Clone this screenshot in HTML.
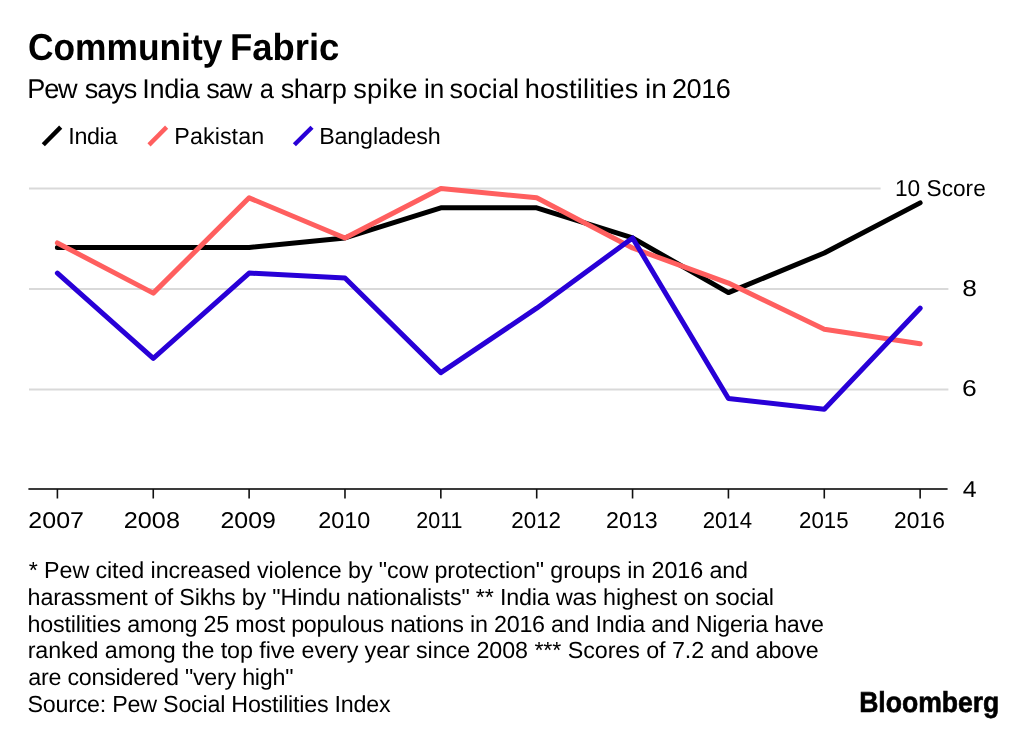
<!DOCTYPE html>
<html><head><meta charset="utf-8"><title>Community Fabric</title>
<style>
html,body{margin:0;padding:0;background:#fff;}
body{width:1024px;height:731px;overflow:hidden;position:relative;}
svg{position:absolute;left:0;top:0;display:block;will-change:transform;}
text{font-family:"Liberation Sans", Arial, Helvetica, sans-serif;fill:#000;white-space:pre;text-rendering:geometricPrecision;}
</style></head><body>
<svg width="1024" height="731" viewBox="0 0 1024 731">
<rect x="0" y="0" width="1024" height="731" fill="#ffffff"/>
<g class="shape">
<line x1="43.3" y1="144.8" x2="60.7" y2="127.1" stroke="#000000" stroke-width="4.4"/>
<line x1="149.0" y1="144.9" x2="166.6" y2="127.1" stroke="#ff5f5f" stroke-width="4.4"/>
<line x1="294.4" y1="144.8" x2="312.0" y2="127.2" stroke="#2800d7" stroke-width="4.4"/>
<line x1="29" y1="188.6" x2="880.6" y2="188.6" stroke="#d9d9d9" stroke-width="2"/>
<line x1="29" y1="288.9" x2="948.4" y2="288.9" stroke="#d9d9d9" stroke-width="2"/>
<line x1="29" y1="389.4" x2="948.4" y2="389.4" stroke="#d9d9d9" stroke-width="2"/>
<line x1="28.4" y1="489.1" x2="947.6" y2="489.1" stroke="#3a3a3a" stroke-width="2"/>
<line x1="57.40" y1="489" x2="57.40" y2="498.5" stroke="#111" stroke-width="1.6"/>
<line x1="153.26" y1="489" x2="153.26" y2="498.5" stroke="#111" stroke-width="1.6"/>
<line x1="249.12" y1="489" x2="249.12" y2="498.5" stroke="#111" stroke-width="1.6"/>
<line x1="344.98" y1="489" x2="344.98" y2="498.5" stroke="#111" stroke-width="1.6"/>
<line x1="440.84" y1="489" x2="440.84" y2="498.5" stroke="#111" stroke-width="1.6"/>
<line x1="536.70" y1="489" x2="536.70" y2="498.5" stroke="#111" stroke-width="1.6"/>
<line x1="632.56" y1="489" x2="632.56" y2="498.5" stroke="#111" stroke-width="1.6"/>
<line x1="728.42" y1="489" x2="728.42" y2="498.5" stroke="#111" stroke-width="1.6"/>
<line x1="824.28" y1="489" x2="824.28" y2="498.5" stroke="#111" stroke-width="1.6"/>
<line x1="920.14" y1="489" x2="920.14" y2="498.5" stroke="#111" stroke-width="1.6"/>
<polyline points="57.40,247.48 153.26,247.48 249.12,247.48 344.98,237.95 440.84,207.86 536.70,207.86 632.56,237.95 728.42,292.61 824.28,253.00 920.14,202.85" fill="none" stroke="#000000" stroke-width="5" stroke-linejoin="round" stroke-linecap="round"/>
<polyline points="57.40,242.96 153.26,293.12 249.12,197.83 344.98,237.95 440.84,188.50 536.70,197.83 632.56,247.98 728.42,283.09 824.28,329.22 920.14,343.77" fill="none" stroke="#ff5f5f" stroke-width="5" stroke-linejoin="round" stroke-linecap="round"/>
<polyline points="57.40,273.05 153.26,358.31 249.12,273.05 344.98,278.07 440.84,372.65 536.70,308.16 632.56,237.95 728.42,398.43 824.28,409.21 920.14,308.16" fill="none" stroke="#2800d7" stroke-width="5" stroke-linejoin="round" stroke-linecap="round"/>
</g>
<text id="title0" x="27.90" y="59.8" font-size="37.6" font-weight="bold" textLength="194.50" lengthAdjust="spacingAndGlyphs">Community</text>
<text id="title1" x="229.88" y="59.8" font-size="37.6" font-weight="bold" textLength="109.44" lengthAdjust="spacingAndGlyphs">Fabric</text>
<text id="sub0" x="27.34" y="97.8" font-size="27.1" textLength="50.15" lengthAdjust="spacing">Pew</text>
<text id="sub1" x="84.74" y="97.8" font-size="27.1" textLength="52.52" lengthAdjust="spacing">says</text>
<text id="sub2" x="142.37" y="97.8" font-size="27.1" textLength="57.53" lengthAdjust="spacing">India</text>
<text id="sub3" x="206.15" y="97.8" font-size="27.1" textLength="46.15" lengthAdjust="spacing">saw</text>
<text id="sub4" x="259.63" y="97.8" font-size="27.1" textLength="14.19" lengthAdjust="spacingAndGlyphs">a</text>
<text id="sub5" x="280.63" y="97.8" font-size="27.1" textLength="66.19" lengthAdjust="spacing">sharp</text>
<text id="sub6" x="353.15" y="97.8" font-size="27.1" textLength="64.40" lengthAdjust="spacing">spike</text>
<text id="sub7" x="424.07" y="97.8" font-size="27.1" textLength="20.31" lengthAdjust="spacingAndGlyphs">in</text>
<text id="sub8" x="449.44" y="97.8" font-size="27.1" textLength="69.62" lengthAdjust="spacing">social</text>
<text id="sub9" x="524.64" y="97.8" font-size="27.1" textLength="113.73" lengthAdjust="spacing">hostilities</text>
<text id="sub10" x="645.08" y="97.8" font-size="27.1" textLength="21.84" lengthAdjust="spacingAndGlyphs">in</text>
<text id="sub11" x="671.90" y="97.8" font-size="27.1" textLength="58.96" lengthAdjust="spacing">2016</text>
<text id="legI" x="68.28" y="143.8" font-size="23.3" textLength="49.10" lengthAdjust="spacing">India</text>
<text id="legP" x="174.27" y="143.8" font-size="23.3" textLength="89.89" lengthAdjust="spacing">Pakistan</text>
<text id="legB" x="319.21" y="143.8" font-size="23.3" textLength="121.43" lengthAdjust="spacing">Bangladesh</text>
<text id="y10" x="895.00" y="195.8" font-size="23" textLength="90.74" lengthAdjust="spacingAndGlyphs">10 Score</text>
<text id="y8" x="962.17" y="295.6" font-size="23" textLength="14.66" lengthAdjust="spacingAndGlyphs">8</text>
<text id="y6" x="961.92" y="396.4" font-size="23" textLength="14.75" lengthAdjust="spacingAndGlyphs">6</text>
<text id="y4" x="962.79" y="496.7" font-size="23" textLength="13.83" lengthAdjust="spacingAndGlyphs">4</text>
<text id="x0" x="28.36" y="527.9" font-size="22.8" textLength="55.60" lengthAdjust="spacingAndGlyphs">2007</text>
<text id="x1" x="123.75" y="527.9" font-size="22.8" textLength="56.19" lengthAdjust="spacingAndGlyphs">2008</text>
<text id="x2" x="220.42" y="527.9" font-size="22.8" textLength="55.45" lengthAdjust="spacingAndGlyphs">2009</text>
<text id="x3" x="318.17" y="527.9" font-size="22.8" textLength="52.00" lengthAdjust="spacingAndGlyphs">2010</text>
<text id="x4" x="416.35" y="527.9" font-size="22.8" textLength="46.17" lengthAdjust="spacingAndGlyphs">2011</text>
<text id="x5" x="511.29" y="527.9" font-size="22.8" textLength="49.78" lengthAdjust="spacingAndGlyphs">2012</text>
<text id="x6" x="606.11" y="527.9" font-size="22.8" textLength="51.55" lengthAdjust="spacingAndGlyphs">2013</text>
<text id="x7" x="702.71" y="527.9" font-size="22.8" textLength="49.32" lengthAdjust="spacingAndGlyphs">2014</text>
<text id="x8" x="799.05" y="527.9" font-size="22.8" textLength="49.47" lengthAdjust="spacingAndGlyphs">2015</text>
<text id="x9" x="894.08" y="527.9" font-size="22.8" textLength="50.76" lengthAdjust="spacingAndGlyphs">2016</text>
<text id="n0" x="28.78" y="578.2" font-size="23.3" textLength="719.28" lengthAdjust="spacing">* Pew cited increased violence by "cow protection" groups in 2016 and</text>
<text id="n1" x="27.60" y="604.9" font-size="23.3" textLength="746.41" lengthAdjust="spacing">harassment of Sikhs by "Hindu nationalists" ** India was highest on social</text>
<text id="n2" x="27.60" y="631.6" font-size="23.3" textLength="796.39" lengthAdjust="spacing">hostilities among 25 most populous nations in 2016 and India and Nigeria have</text>
<text id="n3" x="27.66" y="658.2" font-size="23.3" textLength="791.05" lengthAdjust="spacing">ranked among the top five every year since 2008 *** Scores of 7.2 and above</text>
<text id="n4" x="28.30" y="684.9" font-size="23.3" textLength="265.13" lengthAdjust="spacing">are considered "very high"</text>
<text id="n5" x="27.49" y="711.6" font-size="23.3" textLength="363.08" lengthAdjust="spacing">Source: Pew Social Hostilities Index</text>
<text id="logo" x="859.13" y="711.8" font-size="28.9" font-weight="bold" textLength="140.21" lengthAdjust="spacingAndGlyphs" stroke="#000" stroke-width="0.6">Bloomberg</text>
</svg>
</body></html>
